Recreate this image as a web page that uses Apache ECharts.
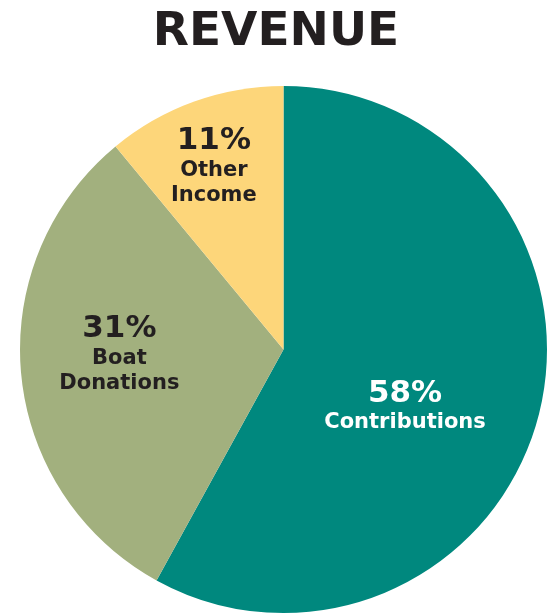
<!DOCTYPE html>
<html>
<head>
<meta charset="utf-8">
<script src="https://cdn.jsdelivr.net/npm/echarts@6/dist/echarts.min.js"></script>
<style>
html,body{margin:0;padding:0;background:#fff;}
#chart{width:552px;height:615px;}
</style>
</head>
<body>
<div id="chart"></div>
<script>
// Data
const titleText = 'REVENUE';
const categories = ['Contributions', 'Boat Donations', 'Other Income'];
const labelLines = ['Contributions', 'Boat\nDonations', 'Other\nIncome'];
const values = [58, 31, 11];

// Styles (not data)
const colors = ['#00887E', '#A2B07E', '#FDD67A'];
const labelColors = ['#ffffff', '#231F20', '#231F20'];
const labelShift = [[-9, 23], [-30, -8], [-24, -57]];

const chart = echarts.init(document.getElementById('chart'), null, {renderer: 'canvas'});

const data = categories.map((c, i) => ({
  name: c,
  value: values[i],
  itemStyle: {color: colors[i]},
  label: {
    color: labelColors[i],
    formatter: () => '{p|' + values[i] + '%}\n{n|' + labelLines[i].split('\n').join('}\n{n|') + '}',
    rich: {
      p: {fontFamily: 'DejaVu Sans', fontWeight: 'bold', fontSize: 31, lineHeight: 34, color: labelColors[i]},
      n: {fontFamily: 'DejaVu Sans', fontWeight: 'bold', fontSize: 21, lineHeight: 25, color: labelColors[i]}
    }
  }
}));

chart.setOption({
  animation: false,
  title: {
    text: titleText,
    left: 'center',
    top: 4,
    textStyle: {fontFamily: 'DejaVu Sans', fontWeight: 'bold', fontSize: 47, color: '#231F20'}
  },
  series: [{
    type: 'pie',
    center: [283.5, 349.5],
    radius: [0, 263.5],
    startAngle: 90,
    clockwise: true,
    silent: true,
    label: {show: true, position: 'inside', align: 'center'},
    labelLine: {show: false},
    labelLayout: (p) => ({dx: labelShift[p.dataIndex][0], dy: labelShift[p.dataIndex][1]}),
    itemStyle: {borderWidth: 0},
    data: data
  }]
});
</script>
</body>
</html>
